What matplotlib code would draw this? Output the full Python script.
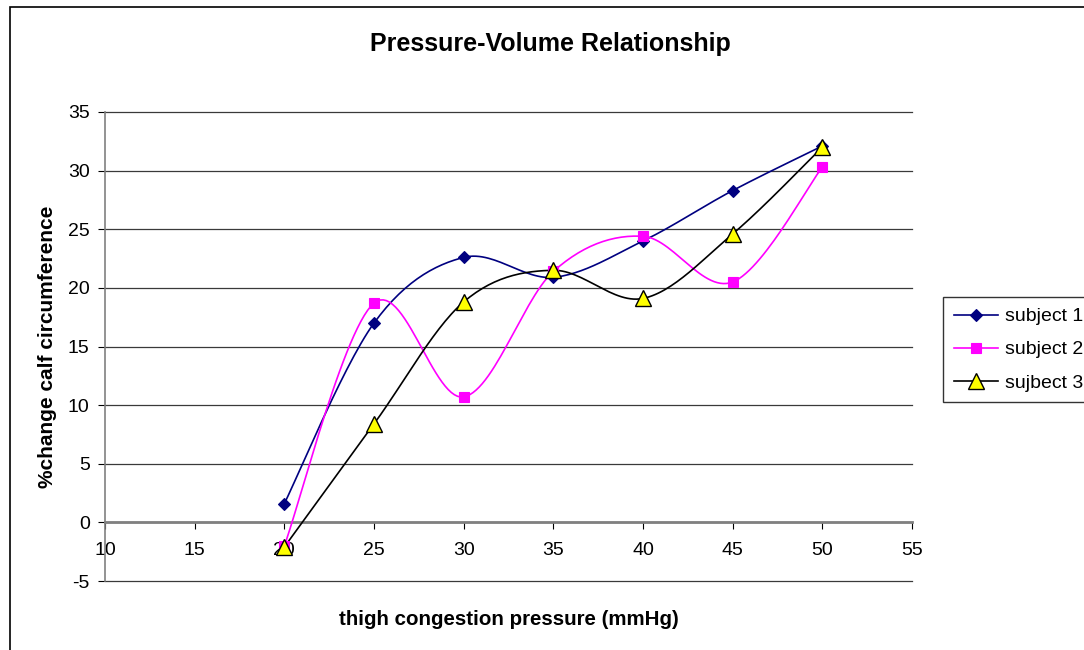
import numpy as np
import matplotlib
matplotlib.use("Agg")
import matplotlib.pyplot as plt
from matplotlib.patches import Rectangle

plt.rcParams['font.family'] = ['Liberation Sans', 'DejaVu Sans']
plt.rcParams['axes.unicode_minus'] = False

pressure = [20, 25, 30, 35, 40, 45, 50]
subject1 = [1.6, 17.0, 22.6, 20.9, 24.0, 28.3, 32.1]
subject2 = [-2.0, 18.7, 10.7, 21.4, 24.4, 20.5, 30.3]
subject3 = [-2.1, 8.4, 18.8, 21.5, 19.1, 24.6, 32.0]
labels = ["subject 1", "subject 2", "sujbect 3"]


def smooth(x, y, n=30):
    x = np.asarray(x, float)
    y = np.asarray(y, float)
    P = np.column_stack([x, y])
    out = [P[0]]
    m = len(P)
    for i in range(m - 1):
        p0 = P[i - 1] if i > 0 else P[i]
        p1 = P[i]
        p2 = P[i + 1]
        p3 = P[i + 2] if i + 2 < m else P[i + 1]
        c1 = p1 + (p2 - p0) / 6.0
        c2 = p2 - (p3 - p1) / 6.0
        t = np.linspace(0, 1, n)[1:, None]
        seg = ((1 - t) ** 3) * p1 + 3 * ((1 - t) ** 2) * t * c1 + 3 * (1 - t) * t ** 2 * c2 + t ** 3 * p2
        out.extend(seg)
    out = np.array(out)
    return out[:, 0], out[:, 1]


fig = plt.figure(figsize=(10.84, 6.5), dpi=100)
ax = fig.add_axes([105 / 1084, 1 - 581 / 650, (912 - 105) / 1084, (581 - 112) / 650])

styles = [
    dict(color='#000080', marker='D', ms=6, mfc='#000080', mec='#000080', mew=0.8),
    dict(color='#FF00FF', marker='s', ms=7, mfc='#FF00FF', mec='#FF00FF', mew=0.8),
    dict(color='#000000', marker='^', ms=11, mfc='#FFFF00', mec='#000000', mew=1.0),
]
handles = []
for ys, st, lab in zip([subject1, subject2, subject3], styles, labels):
    sx, sy = smooth(pressure, ys)
    ax.plot(sx, sy, color=st['color'], lw=1.2, zorder=3)
    ax.plot(pressure, ys, ls='none', marker=st['marker'], ms=st['ms'], mfc=st['mfc'],
            mec=st['mec'], mew=st['mew'], zorder=4, clip_on=False)
    h, = ax.plot([], [], color=st['color'], lw=1.2, marker=st['marker'], ms=st['ms'],
                 mfc=st['mfc'], mec=st['mec'], mew=st['mew'], label=lab)
    handles.append(h)

ax.set_xlim(10, 55)
ax.set_ylim(-5, 35)
ax.set_xticks(np.arange(10, 56, 5))
ax.set_yticks(np.arange(-5, 36, 5))
ax.yaxis.grid(True, color='#3a3a3a', lw=0.9)
for gl in ax.get_ygridlines():
    gl.set_clip_on(False)
ax.set_axisbelow(True)
for s in ['top', 'right']:
    ax.spines[s].set_visible(False)
ax.spines['bottom'].set_position(('data', 0))
ax.spines['bottom'].set_color('#808080')
ax.spines['bottom'].set_linewidth(2)
ax.spines['left'].set_color('#808080')
ax.spines['left'].set_linewidth(1.2)
ax.tick_params(axis='both', direction='out', length=5, color='#000000', labelsize=14)
ax.tick_params(axis='x', pad=9)
ax.tick_params(axis='y', pad=6)
ax.set_ylabel('%change calf circumference', fontsize=15, fontweight='bold')
ax.set_xlabel('thigh congestion pressure (mmHg)', fontsize=14.8, fontweight='bold')
ax.xaxis.set_label_coords(0.5, -0.062)
ax.yaxis.set_label_coords(-0.06, 0.5)

fig.text(0.508, 1 - 44 / 650, 'Pressure-Volume Relationship', ha='center', va='center',
         fontsize=18, fontweight='bold')

leg = fig.legend(handles=handles, loc='upper left', bbox_to_anchor=(943 / 1084, 1 - 297 / 650),
                 fontsize=14, frameon=True, fancybox=False, edgecolor='black',
                 handlelength=2.3, borderpad=0.55, labelspacing=0.8, handletextpad=0.35,
                 borderaxespad=0)
leg.get_frame().set_linewidth(1.0)

fig.add_artist(Rectangle((10 / 1084, -0.1), 1.2, 1 - 7 / 650 + 0.1, transform=fig.transFigure,
                         fill=False, edgecolor='black', lw=1.2))

fig.savefig('out.png', dpi=100)
